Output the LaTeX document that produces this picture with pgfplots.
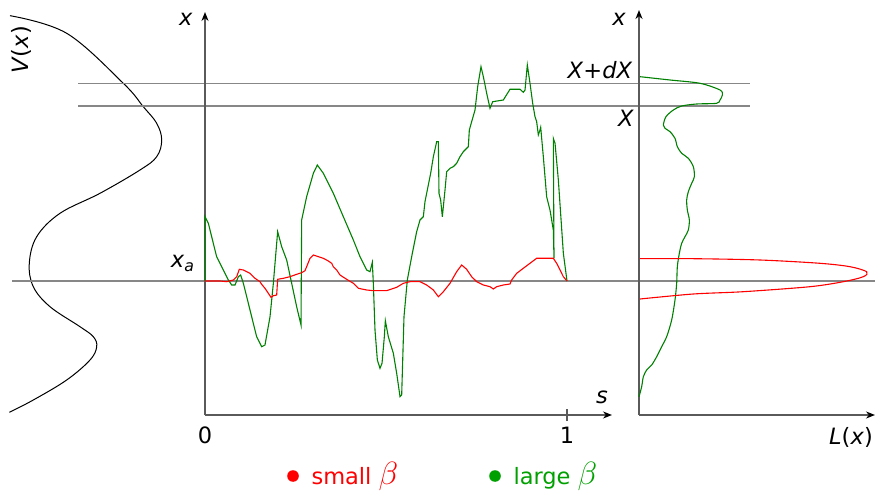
\documentclass[border=0pt]{standalone}
\usepackage{fontspec}
\setmainfont{DejaVu Sans}
\usepackage{graphicx}
\usepackage{pgfplots}
\pgfplotsset{compat=1.18}
\usetikzlibrary{arrows.meta}

\definecolor{pathgreen}{RGB}{0,128,0}
\definecolor{keygreen}{RGB}{0,160,0}
\definecolor{refgray}{RGB}{135,135,135}
\definecolor{axisgray}{RGB}{90,90,90}

% vertical coordinate: "position" x, in pt from the bottom of the picture
\pgfplotstableread{
V      v
10.0   474.3
66.7   456.7
123.3  406.7
143.3  383.3
156.7  366.7
161.7  350.0
156.7  333.3
140.0  320.0
100.0  296.7
60.0   276.7
36.7   253.3
29.3   226.7
33.3   203.3
50.0   183.3
80.0   163.3
93.3   153.3
96.7   143.3
90.0   130.0
66.7   110.0
33.3   90.0
9.3    77.7
}\potential

\pgfplotstableread{
s       v
0.0000  209.0
0.0000  273.3
0.0092  266.7
0.0322  233.3
0.0506  220.0
0.0645  210.0
0.0737  205.0
0.0829  205.0
0.0921  213.3
0.0985  215.0
0.1059  206.7
0.1243  180.0
0.1427  153.3
0.1565  143.3
0.1657  145.0
0.1796  173.3
0.1888  206.7
0.2007  258.3
0.2118  243.3
0.2256  230.0
0.2394  206.7
0.2532  183.3
0.2652  165.0
0.2670  270.0
0.2808  293.3
0.2993  316.7
0.3103  325.0
0.3269  316.7
0.3545  296.7
0.3821  273.3
0.4098  250.0
0.4282  233.3
0.4466  220.0
0.4558  218.3
0.4622  227.7
0.4650  206.7
0.4696  160.0
0.4761  130.0
0.4834  121.7
0.4890  126.7
0.4954  153.3
0.4982  169.3
0.5064  153.3
0.5203  136.7
0.5295  116.7
0.5387  93.3
0.5433  95.0
0.5497  173.3
0.5589  210.0
0.5709  233.3
0.5847  258.3
0.5939  270.0
0.6031  273.3
0.6077  288.3
0.6123  296.7
0.6215  313.3
0.6234  316.7
0.6308  333.3
0.6400  348.3
0.6446  348.3
0.6464  296.7
0.6510  290.0
0.6556  273.3
0.6630  300.0
0.6676  318.3
0.6768  321.7
0.6860  323.3
0.6952  326.7
0.7044  333.3
0.7136  338.3
0.7274  343.3
0.7302  360.0
0.7366  368.3
0.7459  380.0
0.7532  403.3
0.7624  423.3
0.7689  413.3
0.7781  396.7
0.7873  381.7
0.7947  388.3
0.8241  390.0
0.8425  400.7
0.8702  400.7
0.8794  397.7
0.8840  400.0
0.8904  425.0
0.8978  406.7
0.9052  386.7
0.9116  373.3
0.9162  368.3
0.9208  355.0
0.9254  360.0
0.9273  362.7
0.9346  333.3
0.9438  293.3
0.9530  280.0
0.9622  260.0
0.9641  231.7
0.9622  351.7
0.9669  346.7
0.9761  310.0
0.9899  236.7
1.0000  209.0
}\largebeta

\pgfplotstableread{
s       v
0.0000  209.0
0.0414  209.0
0.0599  208.3
0.0783  210.0
0.0875  213.3
0.0948  220.7
0.1059  220.0
0.1243  216.7
0.1381  211.7
0.1519  208.3
0.1565  205.7
0.1657  201.7
0.1750  196.7
0.1823  192.7
0.1888  194.3
0.1980  195.0
0.2007  210.7
0.2164  211.7
0.2348  213.3
0.2532  215.7
0.2670  217.3
0.2762  219.3
0.2827  225.0
0.2901  231.7
0.2993  235.0
0.3131  233.3
0.3269  231.7
0.3407  229.0
0.3499  226.7
0.3545  223.3
0.3637  220.0
0.3729  215.0
0.3913  210.7
0.4098  206.7
0.4236  201.7
0.4466  200.0
0.4650  199.3
0.5018  199.3
0.5295  202.7
0.5479  206.7
0.5663  208.3
0.5939  208.3
0.6123  205.0
0.6308  200.0
0.6446  193.3
0.6584  198.3
0.6768  206.7
0.6952  218.3
0.7090  225.0
0.7228  220.7
0.7366  213.3
0.7505  208.3
0.7689  205.0
0.7873  203.3
0.7965  201.0
0.8057  203.3
0.8241  205.0
0.8425  206.0
0.8471  210.0
0.8610  216.7
0.8794  221.7
0.8978  226.7
0.9162  231.7
0.9622  231.7
0.9715  226.7
0.9807  220.0
0.9899  213.3
1.0000  209.0
}\smallbeta

\pgfplotstableread{
L       v
0.0000  93.3
0.0113  103.3
0.0184  113.3
0.0325  120.0
0.0537  125.0
0.0749  133.3
0.0961  143.3
0.1172  153.3
0.1384  170.0
0.1525  190.0
0.1596  206.7
0.1624  223.3
0.1709  236.7
0.1808  246.7
0.1949  253.3
0.2090  260.0
0.2133  270.0
0.2048  280.0
0.2020  290.0
0.2090  298.3
0.2232  306.7
0.2345  313.3
0.2302  323.3
0.2090  331.7
0.1808  336.7
0.1624  343.3
0.1525  351.7
0.1314  358.3
0.1102  361.7
0.1031  365.0
0.1144  373.3
0.1455  380.0
0.1808  384.0
0.2444  386.0
0.3291  386.7
0.3432  390.0
0.3531  395.0
0.3432  400.0
0.2585  406.7
0.1314  410.0
0.0042  413.3
}\densitylarge

\pgfplotstableread{
L       v
0.0042  231.3
0.2302  231.3
0.5127  230.0
0.7669  226.7
0.8941  223.3
0.9647  218.3
0.9506  213.3
0.8657  208.3
0.7246  203.3
0.4421  198.3
0.2302  196.0
0.0042  191.0
}\densitysmall

\newcommand{\bigbeta}{\scalebox{1.55}{$\beta$}}

\begin{document}
\begin{tikzpicture}[x=1pt,y=1pt,
  every node/.style={font=\fontsize{22.5}{26}\selectfont},
  ax/.style={axisgray,line width=1.5pt,-{Stealth[black,length=9pt,width=7pt]}}]

% potential V(x)
\begin{axis}[at={(0pt,0pt)},anchor=south west,scale only axis,
  width=205pt,height=490pt,xmin=0,xmax=205,ymin=0,ymax=490,
  hide axis,clip=false]
\addplot[black,line width=1pt,smooth,tension=0.6] table[x=V,y=v] {\potential};
\node[rotate=90] at (axis cs:21,440) {\textit{V}(\textit{x})};
\end{axis}

% paths x(s)
\begin{axis}[at={(0pt,0pt)},anchor=south west,scale only axis,
  width=875pt,height=490pt,xmin=-0.56630,xmax=1.85083,ymin=0,ymax=490,
  hide axis,clip=false]
\draw[refgray,line width=1.4pt] (axis cs:-0.5331,209) -- (axis cs:1.85083,209);
\draw[refgray,line width=1.4pt] (axis cs:-0.3508,406.7) -- (axis cs:1.5055,406.7);
\draw[refgray,line width=1.4pt] (axis cs:-0.3508,384) -- (axis cs:1.5055,384);
\draw[ax] (axis cs:0,75) -- (axis cs:0,478);
\draw[ax] (axis cs:0,75) -- (axis cs:1.1243,75);
\draw[axisgray,line width=1.2pt] (axis cs:1,69) -- (axis cs:1,81);
\addplot[pathgreen,line width=1.1pt] table[x=s,y=v] {\largebeta};
\addplot[red,line width=1.1pt] table[x=s,y=v] {\smallbeta};
\node at (axis cs:-0.0525,471) {\textit{x}};
\node[anchor=base east] at (axis cs:-0.0193,222) {\textit{x}\textsubscript{\textit{a}}};
\node at (axis cs:0,55) {0};
\node at (axis cs:1,55) {1};
\node at (axis cs:1.0967,93) {\textit{s}};
\node at (axis cs:1.0912,420) {\textit{X}+\textit{dX}};
\node at (axis cs:1.1630,372) {\textit{X}};
\end{axis}

% local time L(x)
\begin{axis}[at={(639pt,0pt)},anchor=south west,scale only axis,
  width=236pt,height=490pt,xmin=0,xmax=1,ymin=0,ymax=490,
  hide axis,clip=false]
\draw[ax] (axis cs:0,75) -- (axis cs:0,480);
\draw[ax] (axis cs:0,75) -- (axis cs:1,75);
\addplot[pathgreen,line width=1.1pt,smooth,tension=0.5] table[x=L,y=v] {\densitylarge};
\addplot[red,line width=1.1pt,smooth,tension=0.5] table[x=L,y=v] {\densitysmall};
\node at (axis cs:-0.0847,471) {\textit{x}};
\node at (axis cs:0.8983,53) {\textit{L}(\textit{x})};
\end{axis}

% key
\fill[red] (293,14) circle (5.8pt);
\node[anchor=base west,text=red] at (308,6) {small \bigbeta};
\fill[keygreen] (495,14) circle (5.8pt);
\node[anchor=base west,text=keygreen] at (510,6) {large \bigbeta};

\pgfresetboundingbox
\path[use as bounding box] (0,0) rectangle (875,490);
\end{tikzpicture}
\end{document}
